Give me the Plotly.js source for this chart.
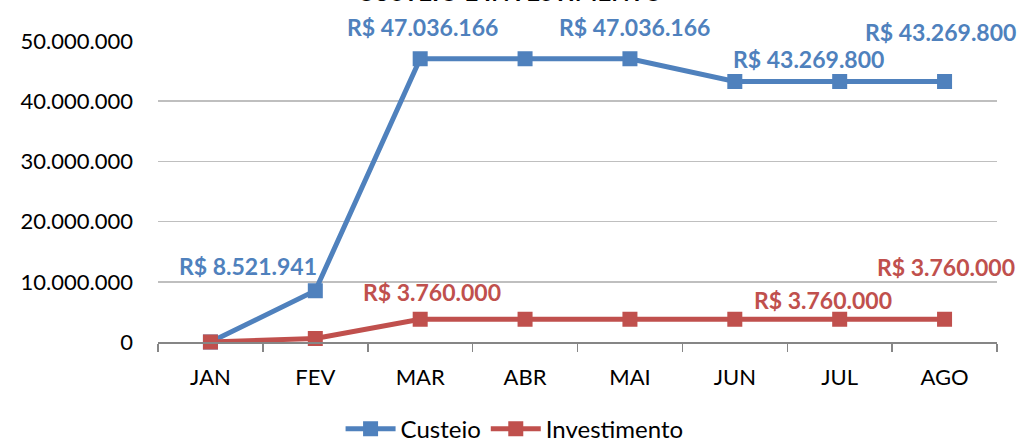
<!DOCTYPE html>
<html>
<head>
<meta charset="utf-8">
<script src="https://cdn.plot.ly/plotly-3.0.1.min.js"></script>
<style>html,body{margin:0;padding:0;background:#fff;}#chart{width:1020px;height:443px;}</style>
</head>
<body>
<div id="chart"></div>
<script>
const categories = ['JAN','FEV','MAR','ABR','MAI','JUN','JUL','AGO'];
const custeio = [0, 8521941, 47036166, 47036166, 47036166, 43269800, 43269800, 43269800];
const investimento = [0, 600000, 3760000, 3760000, 3760000, 3760000, 3760000, 3760000];
const yTicks = [0, 10000000, 20000000, 30000000, 40000000, 50000000];
const titleText = 'CUSTEIO E INVESTIMENTO';

// which points carry a value label, with label offsets (px)
const custeioLabels = [[1,-67,25],[2,2,32],[4,5,32],[5,74,23],[7,-4,50]];
const investLabels = [[2,12,27],[6,-17,19],[7,1,52]];

const BLUE = '#4F81BD', RED = '#C0504D';
const FONT = 'Lato, "Open Sans", sans-serif';

function fmt(v){ return 'R$ ' + Math.round(v).toString().replace(/\B(?=(\d{3})+(?!\d))/g,'.'); }

const annotations = [];
custeioLabels.forEach(([i,dx,dy])=>annotations.push({x:categories[i], y:custeio[i], xref:'x', yref:'y', text:fmt(custeio[i]), showarrow:false, xshift:dx, yshift:dy, font:{family:FONT, size:23, color:BLUE, weight:'bold'}}));
investLabels.forEach(([i,dx,dy])=>annotations.push({x:categories[i], y:investimento[i], xref:'x', yref:'y', text:fmt(investimento[i]), showarrow:false, xshift:dx, yshift:dy, font:{family:FONT, size:23, color:RED, weight:'bold'}}));
annotations.push({x:0.42, y:1.11, xref:'paper', yref:'paper', yanchor:'bottom', text:titleText, showarrow:false, font:{family:FONT, size:24, color:'#000', weight:'bold'}});

const traces = [
  {x:categories, y:custeio, name:'Custeio', type:'scatter', mode:'lines+markers', cliponaxis:false,
   line:{color:BLUE, width:5}, marker:{symbol:'square', size:13, color:BLUE, line:{color:BLUE, width:2}}},
  {x:categories, y:investimento, name:'Investimento', type:'scatter', mode:'lines+markers', cliponaxis:false,
   line:{color:RED, width:5}, marker:{symbol:'square', size:13, color:RED, line:{color:RED, width:2}}}
];

const layout = {
  width:1020, height:443,
  margin:{l:158, r:23, t:41, b:101, autoexpand:false},
  paper_bgcolor:'#fff', plot_bgcolor:'#fff',
  separators:',.',
  showlegend:true,
  legend:{orientation:'h', x:0.425, xanchor:'center', y:-0.215, yanchor:'top', font:{family:FONT, size:24, color:'#000'}, itemwidth:50, tracegroupgap:0},
  xaxis:{type:'category', range:[-0.5,7.5], showgrid:false, zeroline:false, showline:true, linecolor:'#868686', linewidth:1.5,
    ticks:'outside', tickson:'boundaries', ticklen:8, tickcolor:'#868686', tickwidth:1.5,
    ticklabelstandoff:15, tickfont:{family:FONT, size:22, color:'#000'}},
  yaxis:{range:[0,50000000], tickvals:yTicks, tickformat:',d', showgrid:true, gridcolor:'#BFBFBF', gridwidth:1.5,
    zeroline:false, showline:false, ticks:'', ticklabelstandoff:24, tickfont:{family:FONT, size:22, color:'#000'}},
  annotations:annotations
};

Plotly.newPlot('chart', traces, layout, {displayModeBar:false, staticPlot:true});
</script>
</body>
</html>
